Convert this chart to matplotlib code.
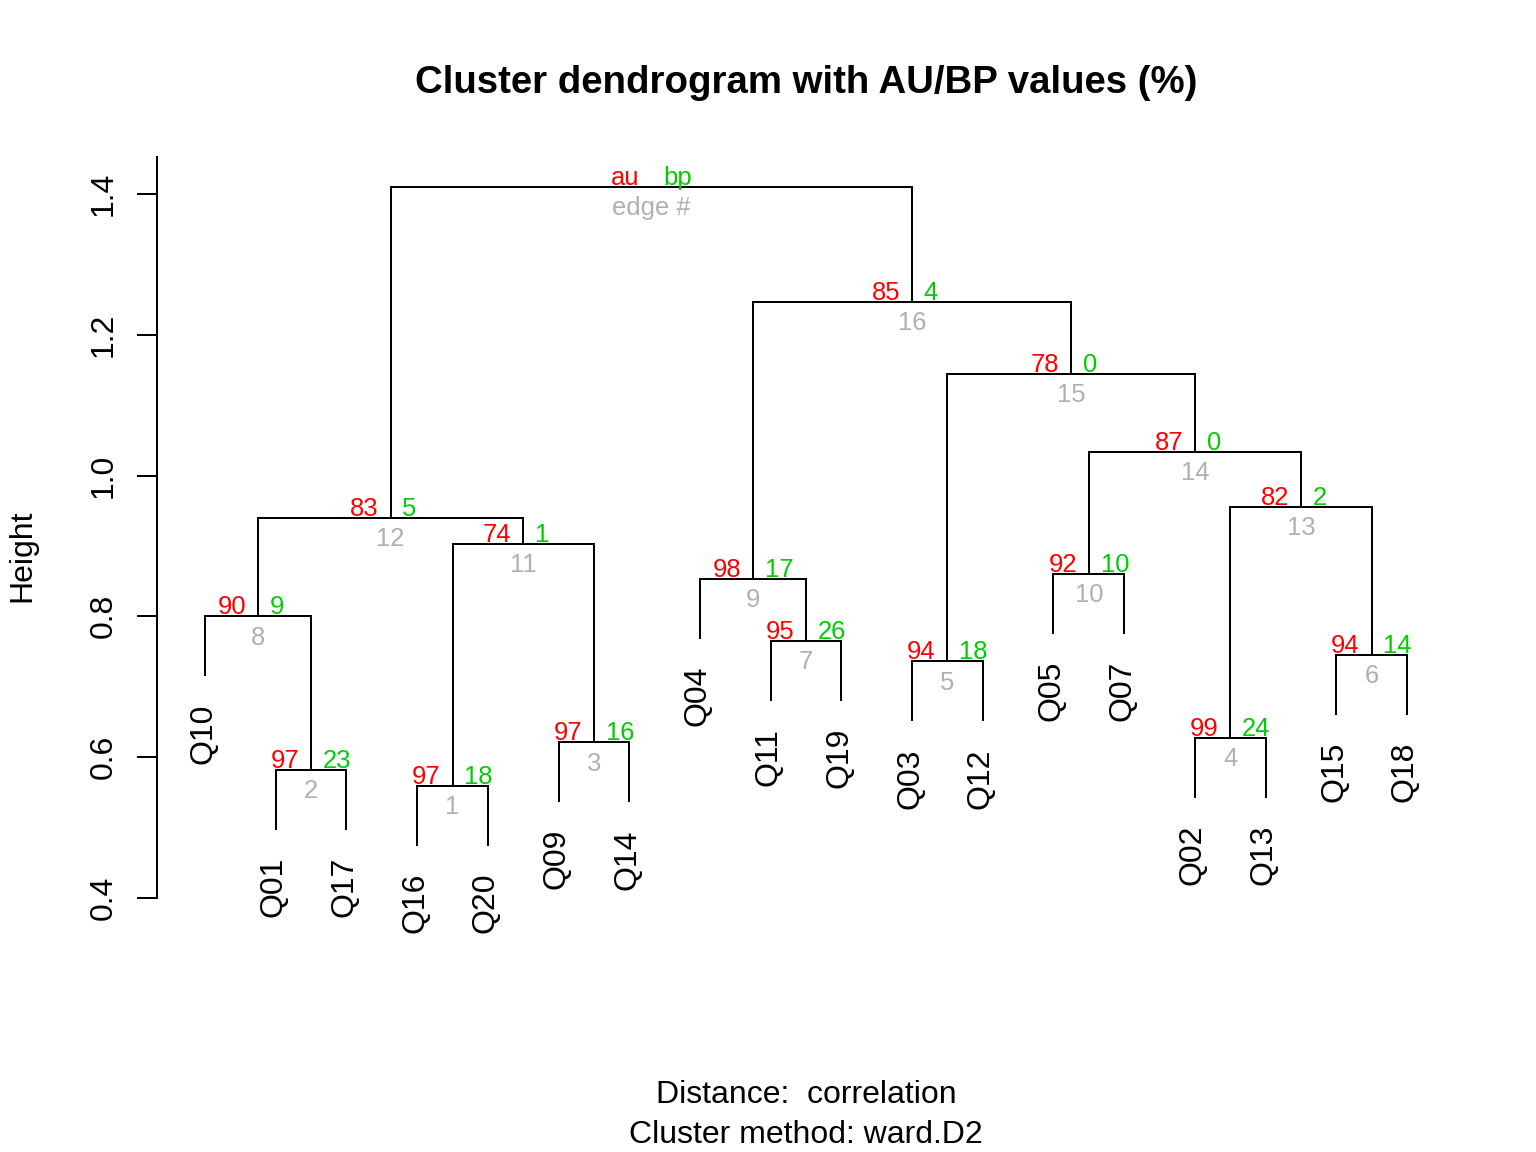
import matplotlib
matplotlib.use("Agg")
import matplotlib.pyplot as plt

plt.rcParams["font.family"] = ["Liberation Sans", "DejaVu Sans"]

# ---------------- data ----------------
leaves = ["Q10", "Q01", "Q17", "Q16", "Q20", "Q09", "Q14", "Q04", "Q11",
          "Q19", "Q03", "Q12", "Q05", "Q07", "Q02", "Q13", "Q15", "Q18"]
# merges: leaf name or (int) edge number of an earlier merge
merge_left = ["Q16", "Q01", "Q09", "Q02", "Q03", "Q15", "Q11", "Q10", "Q04",
              "Q05", 1, 8, 4, 10, 5, 9, 12]
merge_right = ["Q20", "Q17", "Q14", "Q13", "Q12", "Q18", "Q19", 2, 7,
               "Q07", 3, 11, 6, 13, 14, 15, 16]
heights = [0.559, 0.582, 0.621, 0.627, 0.736, 0.745, 0.765, 0.800, 0.853,
           0.860, 0.903, 0.940, 0.956, 1.034, 1.145, 1.247, 1.411]
au_values = ["97", "97", "97", "99", "94", "94", "95", "90", "98", "92",
             "74", "83", "82", "87", "78", "85", "au"]
bp_values = ["18", "23", "16", "24", "18", "14", "26", "9", "17", "10",
             "1", "5", "2", "0", "0", "4", "bp"]
edge_labels = [str(i) for i in range(1, 17)] + ["edge #"]
y_ticks = [0.4, 0.6, 0.8, 1.0, 1.2, 1.4]
y_tick_labels = ["0.4", "0.6", "0.8", "1.0", "1.2", "1.4"]

title = "Cluster dendrogram with AU/BP values (%)"
sub1 = "Distance:  correlation"
sub2 = "Cluster method: ward.D2"

RED = "#FF0000"
GREEN = "#00CD00"
GRAY = "#B0B0B0"
HANG = 0.1

# ---------------- figure ----------------
W, H = 1536, 1152
fig = plt.figure(figsize=(8, 6), dpi=192)
L, R, T, B = 157, 1455, 157, 910
ax = fig.add_axes([L / W, 1 - B / H, (R - L) / W, (B - T) / H])

n = len(leaves)
pad = 0.04 * (n - 1)
ax.set_xlim(1 - pad, n + pad)
ax.set_ylim(0.3825, 1.453)

hang = HANG * (max(heights) - min(heights))
leaf_x = {name: i + 1 for i, name in enumerate(leaves)}
node_x = {}

def child_pos(c, parent_h):
    if isinstance(c, int):
        return node_x[c], heights[c - 1], False
    return leaf_x[c], parent_h - hang, True

lw = 0.75
for k in range(len(heights)):
    h = heights[k]
    xl, yl, leafl = child_pos(merge_left[k], h)
    xr, yr, leafr = child_pos(merge_right[k], h)
    ax.plot([xl, xl, xr, xr], [yl, h, h, yr], color="black", lw=lw,
            solid_joinstyle="miter", solid_capstyle="butt")
    cx = (xl + xr) / 2
    node_x[k + 1] = cx
    for lx, ly, isleaf, name in [(xl, yl, leafl, merge_left[k]),
                                 (xr, yr, leafr, merge_right[k])]:
        if isleaf:
            ax.annotate(name, (lx, ly), xytext=(2.25, -10.1),
                        textcoords="offset points", rotation=90,
                        rotation_mode="anchor", ha="right", va="baseline",
                        fontsize=12, annotation_clip=False)
    ax.annotate(au_values[k], (cx, h), xytext=(-4.4, 0.75),
                textcoords="offset points", ha="right", va="baseline",
                fontsize=9.6, color=RED)
    ax.annotate(bp_values[k], (cx, h), xytext=(4.4, 0.75),
                textcoords="offset points", ha="left", va="baseline",
                fontsize=9.6, color=GREEN)
    ax.annotate(edge_labels[k], (cx, h), xytext=(0, -10.6),
                textcoords="offset points", ha="center", va="baseline",
                fontsize=9.6, color=GRAY)

for s in ["top", "right", "bottom"]:
    ax.spines[s].set_visible(False)
ax.spines["left"].set_linewidth(lw)
ax.spines["left"].set_bounds(0.4, 1.453)
ax.set_xticks([])
ax.set_yticks(y_ticks)
ax.set_yticklabels(y_tick_labels, rotation=90, va="center")
ax.tick_params(axis="y", length=7.5, width=lw, pad=7, labelsize=12)

fig.text(806 / W, 1 - 93 / H, title, ha="center", va="baseline",
         fontsize=14.4, fontweight="bold")
fig.text(806 / W, 1 - 1103 / H, sub1, ha="center", va="baseline", fontsize=12)
fig.text(806 / W, 1 - 1143 / H, sub2, ha="center", va="baseline", fontsize=12)
fig.text(22 / W, 1 - 556 / H, "Height", rotation=90, ha="center",
         va="center", fontsize=12)

fig.savefig("out.png", dpi=192)
